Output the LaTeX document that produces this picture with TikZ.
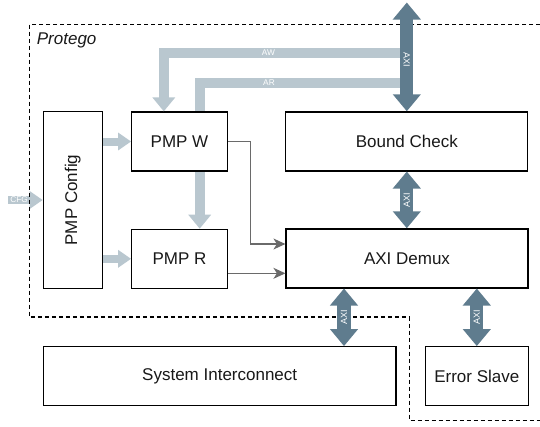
\documentclass[tikz,border=0pt]{standalone}
\usepackage{fontspec}
\setmainfont{Liberation Sans}
\usetikzlibrary{arrows.meta,backgrounds,calc}
\definecolor{lightax}{HTML}{B9C7CF}
\definecolor{darkax}{HTML}{5F7C8E}
\definecolor{thinax}{HTML}{6A6A6A}
\begin{document}
\begin{tikzpicture}[x=1pt,y=-1pt,
  box/.style={draw=black, line width=1.2pt, fill=white, inner sep=0pt,
    font=\fontsize{17}{20}\selectfont, text=black!90, minimum height=59pt},
  lightarrow/.style={draw=lightax, line width=8pt, -{Triangle[width=17pt,length=13pt]}},
  lightbig/.style={draw=lightax, line width=10pt, -{Triangle[width=22pt,length=14pt]}},
  axiarrow/.style={draw=darkax, line width=13.3pt,
    {Triangle[width=27pt,length=17pt]}-{Triangle[width=27pt,length=17pt]}},
  axilabel/.style={text=white, inner sep=0pt, font=\fontsize{9}{10}\selectfont},
  smalllabel/.style={text=white, inner sep=0pt, font=\fontsize{8.3}{9}\selectfont},
  thinarrow/.style={draw=thinax, line width=1.2pt, -{Stealth[length=12pt,width=11pt,inset=3.5pt]}},
  dashbox/.style={draw=black, line width=1.1pt, dash pattern=on 4pt off 3pt},
]
\useasboundingbox (0,0) rectangle (540,426);

% boxes
\node[box, minimum width=59pt, minimum height=176.6pt] (cfg) at (72.8,200) {\rotatebox{90}{PMP Config}};
\node[box, minimum width=95.6pt] (pmpw) at (179.5,141.5) {PMP W};
\node[box, minimum width=95.6pt] (pmpr) at (179.5,258.8) {PMP R};
\node[box, minimum width=242pt] (bound) at (406.8,141.4) {Bound Check};
\node[box, minimum width=242pt] (demux) at (407,258.4) {AXI Demux};
\node[box, minimum width=352.7pt] (sysint) at (219.7,376.2) {System Interconnect};
\node[box, minimum width=103pt] (errs) at (476.8,376.2) {Error Slave};

\node[anchor=base west, inner sep=0pt, font=\fontsize{17}{20}\selectfont\itshape, text=black!90] (prot) at (36.7,44) {Protego};

\coordinate (axitop) at (406.8,2.5);
\coordinate (cfgin) at (8,200);

% background: AR channel (behind PMP W), CFG input, dashed boundary
\begin{pgfonlayer}{background}
  \draw[lightbig] (406.8,82.7) -| ([xshift=20.2pt]pmpr.north);
  \draw[lightarrow] (cfgin) -- (cfg.west) node[pos=0.32, smalllabel] (cfglab) {CFG};
  \draw[dashbox] (540,24.3) -- (29.3,24.3) -- (29.3,317) -- (409.3,317) -- (409.3,420.3) -- (540,420.3);
\end{pgfonlayer}

% AW channel
\draw[lightbig] (406.8,53.3) -| ([xshift=-15.7pt]pmpw.north);
\node[smalllabel] (awlab) at (268.5,52.7) {AW};
\node[smalllabel] (arlab) at (269,82.4) {AR};

% config to PMP units
\draw[lightarrow] (cfg.east |- pmpw.west) -- (pmpw.west);
\draw[lightarrow] (cfg.east |- pmpr.west) -- (pmpr.west);

% thin connectors to demux
\draw[thinarrow] (pmpw.east) -- ++(22.4,0) |- ([yshift=14.4pt]demux.west);
\draw[thinarrow] ([yshift=-14.5pt]pmpr.east) -- ([yshift=-14.5pt]pmpr.east -| demux.west);

% AXI buses
\draw[axiarrow] (axitop) -- (bound.north) node[pos=0.53, rotate=-90, axilabel] (axi1) {AXI};
\draw[axiarrow] (bound.south) -- (bound.south |- demux.north) node[midway, rotate=90, axilabel] (axi2) {AXI};
\draw[axiarrow] ([xshift=-63pt]demux.south) -- ([xshift=-63pt]demux.south |- sysint.north) node[midway, rotate=90, axilabel] (axi3) {AXI};
\draw[axiarrow] (demux.south -| errs.north) -- (errs.north) node[midway, rotate=90, axilabel] (axi4) {AXI};
\end{tikzpicture}
\end{document}
